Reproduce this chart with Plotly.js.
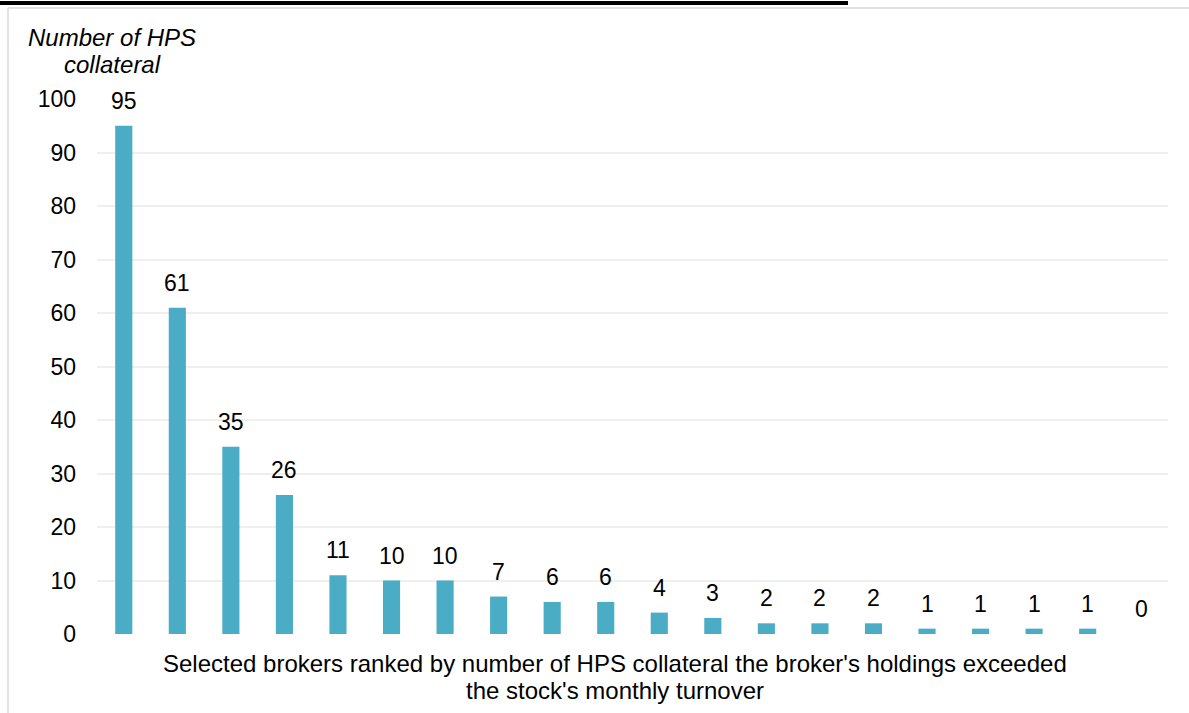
<!DOCTYPE html>
<html>
<head>
<meta charset="utf-8">
<script src="https://cdn.plot.ly/plotly-3.0.1.min.js"></script>
<style>html,body{margin:0;padding:0;background:#fff;}#chart{width:1189px;height:713px;}</style>
</head>
<body>
<div id="chart"></div>
<script>
const brokers = ["B1","B2","B3","B4","B5","B6","B7","B8","B9","B10","B11","B12","B13","B14","B15","B16","B17","B18","B19","B20"];
const hpsCount = [95,61,35,26,11,10,10,7,6,6,4,3,2,2,2,1,1,1,1,0];
const yTicks = [0,10,20,30,40,50,60,70,80,90,100];
const yTitleLines = ["Number of HPS", "collateral"];
const xTitleLines = ["Selected brokers ranked by number of HPS collateral the broker's holdings exceeded", "the stock's monthly turnover"];

const font = "Liberation Sans, Arial, sans-serif";
const FS = 23;
const TFS = 24;
const L = 97, T = 99, PW = 1071, PH = 535;
const px = v => (v - L) / PW;
const py = v => 1 - (v - T) / PH;

const labelAnn = brokers.map((b, i) => ({
  x: b, y: hpsCount[i], xref: 'x', yref: 'y',
  text: String(hpsCount[i]), showarrow: false,
  yanchor: 'middle', yshift: 25,
  font: {family: font, size: FS, color: '#000'}
}));

const titleAnn = [];
yTitleLines.forEach((t, i) => titleAnn.push({
  xref: 'paper', yref: 'paper', x: px(112), y: py(38 + 26 * i),
  xanchor: 'center', yanchor: 'middle', showarrow: false,
  text: '<i>' + t + '</i>', font: {family: font, size: TFS, color: '#000'}
}));
xTitleLines.forEach((t, i) => titleAnn.push({
  xref: 'paper', yref: 'paper', x: px(615), y: py(663 + 27 * i),
  xanchor: 'center', yanchor: 'middle', showarrow: false,
  text: t, font: {family: font, size: TFS, color: '#000'}
}));

const trace = {
  type: 'bar', x: brokers, y: hpsCount,
  marker: {color: '#4BACC6'}, width: 0.32, hoverinfo: 'skip'
};

const layout = {
  width: 1189, height: 713,
  margin: {l: L, r: 1189 - L - PW, t: T, b: 713 - T - PH},
  paper_bgcolor: '#fff', plot_bgcolor: '#fff',
  showlegend: false,
  font: {family: font, size: FS, color: '#000'},
  xaxis: {showticklabels: false, showgrid: false, zeroline: false, showline: false, ticks: '', fixedrange: true},
  yaxis: {range: [0, 100], tickvals: yTicks, ticktext: yTicks.map(String),
    showgrid: true, gridcolor: '#efefef', gridwidth: 2, zeroline: false, showline: false,
    ticks: '', ticklabelstandoff: 20, tickfont: {family: font, size: FS, color: '#000'}},
  annotations: labelAnn.concat(titleAnn),
  shapes: [
    {type: 'line', xref: 'paper', yref: 'paper', x0: px(0), x1: px(848), y0: py(3), y1: py(3), line: {color: '#000', width: 4}},
    {type: 'line', xref: 'paper', yref: 'paper', x0: px(8), x1: px(8), y0: py(8), y1: py(713), line: {color: '#d9d9d9', width: 1.5}},
    {type: 'line', xref: 'paper', yref: 'paper', x0: px(8), x1: px(1189), y0: py(8), y1: py(8), line: {color: '#d9d9d9', width: 1.5}}
  ]
};

Plotly.newPlot('chart', [trace], layout, {displayModeBar: false, staticPlot: true});
</script>
</body>
</html>
